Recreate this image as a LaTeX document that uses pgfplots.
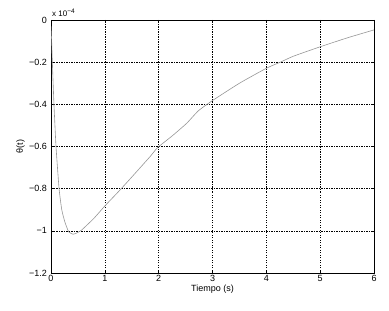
\documentclass[border=0pt]{standalone}
\usepackage{fontspec}
\setmainfont{Liberation Sans}
\usepackage{pgfplots}
\pgfplotsset{compat=1.18}
\begin{document}
\fontsize{9}{10}\selectfont
\begin{tikzpicture}[x=1pt,y=1pt]
\begin{axis}[
  scale only axis,
  width=323pt, height=253pt,
  xmin=0, xmax=6, ymin=-1.2, ymax=0,
  xtick={0,1,2,3,4,5,6},
  ytick={-1.2,-1,-0.8,-0.6,-0.4,-0.2,0},
  yticklabels={−1.2,−1,−0.8,−0.6,−0.4,−0.2,0},
  /pgf/number format/assume math mode=true,
  scaled ticks=false,
  tick align=inside,
  major tick length=3pt,
  xtick pos=both, ytick pos=both,
  tick style={black, line width=0.5pt},
  axis line style={black, line width=0.6pt},
  grid=major,
  major grid style={black, line width=0.5pt, dash pattern=on 1.5pt off 1.5pt on 0.5pt off 1.5pt},
  xticklabel style={font=\fontsize{9}{10}\selectfont, yshift=1pt},
  yticklabel style={font=\fontsize{9}{10}\selectfont, xshift=-1pt},
  xlabel={Tiempo (s)},
  ylabel={θ(t)},
  xlabel style={font=\fontsize{9}{10}\selectfont, yshift=3pt},
  ylabel style={font=\fontsize{9}{10}\selectfont, yshift=-2pt},
  clip=true,
]
\addplot[color={rgb,255:red,150;green,150;blue,150}, line width=0.6pt, smooth, tension=0.3] coordinates {
(0,-0.03) (0.012,-0.1) (0.025,-0.2) (0.055,-0.4) (0.093,-0.6) (0.15,-0.8)
(0.2,-0.9) (0.26,-0.96) (0.33,-1.005) (0.41,-1.016) (0.48,-1.01)
(0.57,-0.996) (0.8,-0.94) (1.0,-0.882) (1.25,-0.815) (1.5,-0.745)
(1.84,-0.648) (1.98,-0.605) (2.25,-0.55) (2.52,-0.49) (2.74,-0.43)
(3.0,-0.382) (3.5,-0.30) (4.0,-0.229) (4.26,-0.2) (4.5,-0.172)
(5.0,-0.127) (5.5,-0.085) (6.0,-0.047)
};
\coordinate (sw) at (rel axis cs:0,0);
\coordinate (ne) at (rel axis cs:1,1);
\coordinate (nw) at (rel axis cs:0,1);
\end{axis}
\node[anchor=south west, inner sep=0pt, font=\fontsize{8}{9}\selectfont] at ([shift={(1pt,3pt)}]nw) {x 10\raisebox{0.8ex}{\fontsize{6.5}{7}\selectfont −4}};
\pgfresetboundingbox
\path[use as bounding box] ([shift={(-51pt,-37pt)}]sw) rectangle ([shift={(15pt,20pt)}]ne);
\end{tikzpicture}
\end{document}
